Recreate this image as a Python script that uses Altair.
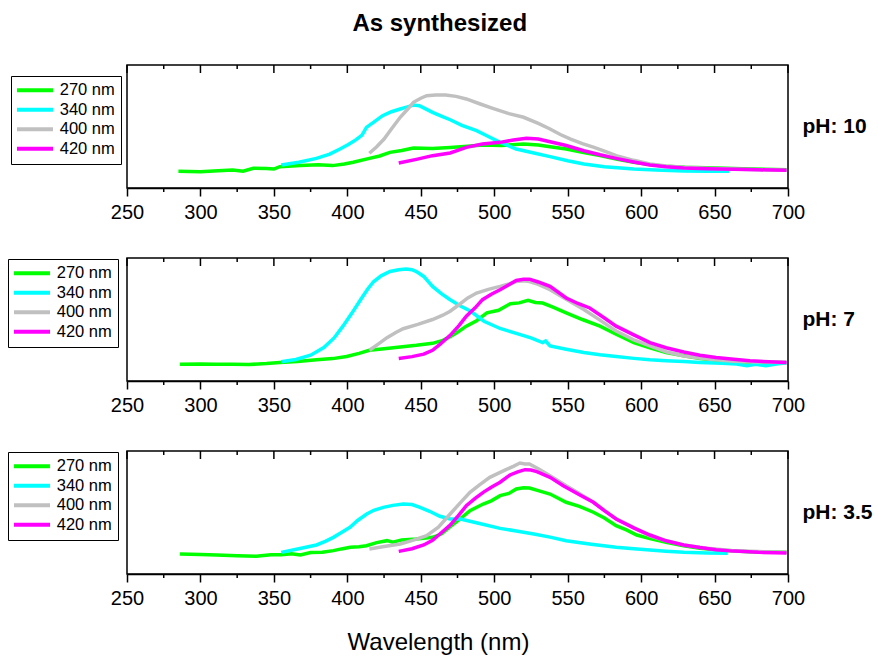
import altair as alt
import pandas as pd

FONT = "Liberation Sans"
SERIES = ["270 nm", "340 nm", "400 nm", "420 nm"]
COLORS = ["#00ff00", "#00ffff", "#c0c0c0", "#ff00ff"]
PANELS = ["pH: 10", "pH: 7", "pH: 3.5"]
MAJOR_TICKS = [250, 300, 350, 400, 450, 500, 550, 600, 650, 700]
MINOR_TICKS = [275, 325, 375, 425, 475, 525, 575, 625, 675]

# ---------------- pH 10 ----------------
PH10_270_WL = [285, 300, 312, 322, 329, 336, 345, 350, 354, 368, 380, 390, 398, 404, 415, 422, 429, 437, 445, 458,
               470, 482, 492, 505, 520, 530, 538, 549, 560, 572, 583, 595, 606, 617, 630, 651, 675, 699]
PH10_270_I = [13.6, 13.3, 14.0, 14.6, 13.6, 16.0, 15.8, 15.4, 17.3, 18.2, 18.8, 18.2, 19.5, 20.9, 24.1, 26.0, 29.0,
              30.5, 32.5, 32.2, 33.0, 34.0, 35.0, 34.5, 35.8, 35.0, 33.6, 31.7, 29.0, 26.3, 23.5, 20.9, 19.0, 17.6,
              16.8, 16.3, 15.5, 14.9]
PH10_340_WL = [355, 367, 379, 388, 395, 401, 406, 410, 413, 418, 424, 430, 436, 441, 445, 449, 453, 458, 464, 470,
               478, 488, 495, 504, 515, 527, 538, 550, 561, 575, 595, 610, 629, 645, 660]
PH10_340_I = [18.7, 21.0, 24.1, 27.5, 31.7, 35.5, 39.3, 43.0, 49.3, 53.5, 58.8, 62.0, 64.2, 66.0, 67.5, 66.9, 64.5,
              61.5, 58.5, 55.5, 51.0, 46.6, 42.5, 37.1, 31.7, 28.5, 25.5, 22.2, 19.5, 17.3, 15.4, 14.6, 13.8, 13.6,
              13.6]
PH10_400_WL = [415, 420, 425, 430, 436, 441, 445, 450, 454, 460, 467, 474, 481, 490, 499, 510, 520, 530, 538, 545,
               552, 560, 568, 576, 583, 595, 606, 617, 629, 645, 663, 680, 699]
PH10_400_I = [28.2, 33.5, 39.8, 48.0, 57.5, 64.0, 69.7, 73.0, 75.0, 75.6, 75.6, 74.5, 72.4, 68.5, 64.8, 60.5, 57.5,
              52.5, 48.0, 43.5, 39.8, 36.0, 33.0, 29.5, 26.3, 22.5, 19.5, 17.8, 16.8, 16.0, 15.4, 14.8, 14.4]
PH10_420_WL = [435, 447, 458, 470, 481, 492, 504, 513, 522, 530, 538, 549, 561, 572, 583, 595, 606, 617, 629, 645,
               663, 680, 699]
PH10_420_I = [20.3, 23.3, 26.3, 28.5, 33.0, 35.8, 37.1, 39.0, 40.4, 39.8, 37.6, 34.5, 30.3, 27.0, 24.1, 21.2, 18.7,
              17.3, 16.3, 15.6, 15.2, 14.8, 14.4]

# ---------------- pH 7 ----------------
PH7_270_WL = [286, 300, 310, 322, 333, 345, 354, 366, 379, 390, 399.5, 408, 415, 425, 436, 447, 458, 465, 470, 476,
              481, 488, 495, 503, 511, 517, 523, 528, 533, 540, 549, 560, 572, 583, 595, 606, 617, 629, 640, 651,
              663, 680, 699]
PH7_270_I = [13.7, 13.8, 13.6, 13.7, 13.4, 14.2, 15.1, 15.8, 17.2, 18.2, 19.9, 22.5, 25.0, 26.3, 27.7, 29.0, 30.6,
             33.0, 36.0, 40.5, 44.6, 49.0, 55.4, 57.5, 62.9, 63.5, 65.6, 63.8, 63.4, 60.0, 55.4, 50.0, 44.6, 38.0,
             31.2, 27.0, 23.1, 20.5, 18.3, 16.9, 15.6, 15.2, 15.1]
PH7_340_WL = [355, 365, 375, 384, 391, 397, 403, 409, 414, 418, 423, 429, 435, 440, 444, 447, 452, 458, 464, 470,
              477, 484, 493, 504, 515, 525, 533, 535, 538, 549, 561, 572, 583, 595, 606, 617, 629, 640, 655, 665,
              672, 678, 685, 692, 699]
PH7_340_I = [15.6, 17.5, 21.0, 27.2, 35.0, 44.6, 55.0, 66.1, 75.0, 80.9, 85.5, 89.0, 90.5, 91.1, 90.5, 89.0, 85.0,
             76.9, 71.0, 66.1, 61.0, 56.7, 48.6, 42.7, 38.7, 35.0, 31.2, 32.5, 28.5, 25.8, 23.1, 21.3, 19.9, 18.4,
             17.2, 16.4, 15.8, 15.1, 14.5, 13.8, 12.4, 13.6, 12.4, 13.8, 14.8]
PH7_400_WL = [415, 421, 427, 433, 438, 448, 458, 465, 470, 476, 482, 488, 496, 504, 510, 515, 520, 524, 530, 538,
              549, 561, 572, 583, 595, 606, 617, 629, 645, 663, 680, 699]
PH7_400_I = [25.0, 30.0, 35.2, 39.5, 42.5, 46.0, 50.0, 53.5, 56.7, 62.0, 67.5, 71.5, 74.5, 76.9, 79.0, 80.9, 81.5,
             80.9, 78.5, 74.2, 66.5, 58.1, 49.5, 40.6, 33.5, 28.5, 23.8, 20.4, 17.8, 16.1, 15.5, 15.1]
PH7_420_WL = [435, 444, 452, 458, 463, 470, 476, 481, 487, 492, 498, 504, 510, 515, 520, 524, 530, 538, 549, 557,
              565, 574, 583, 595, 606, 617, 629, 640, 651, 663, 674, 687, 699]
PH7_420_I = [18.3, 19.8, 21.8, 25.0, 29.8, 37.1, 45.0, 52.7, 59.5, 66.1, 70.5, 74.2, 78.2, 81.7, 82.8, 82.8, 80.5,
             76.9, 67.5, 63.0, 59.4, 52.0, 44.6, 37.5, 31.2, 27.0, 23.6, 21.0, 19.1, 17.6, 16.4, 15.6, 15.1]

# ---------------- pH 3.5 ----------------
PH35_270_WL = [286, 300, 311, 325, 338, 348, 355, 362, 368, 375, 383, 390.5, 396, 402, 408, 413, 420, 427, 431, 437,
               447, 458, 464, 470, 477, 483.5, 492.5, 498, 504, 510, 515, 520, 524, 530, 538, 549, 558, 567.5, 575,
               583, 590, 597, 606, 617, 629, 640, 655, 674, 699]
PH35_270_I = [16.3, 15.8, 15.4, 14.9, 14.4, 15.6, 15.7, 16.5, 15.4, 17.4, 17.6, 19.0, 20.4, 21.7, 22.2, 23.0, 25.5,
              27.1, 25.8, 27.7, 28.5, 29.8, 32.5, 38.4, 45.0, 51.5, 56.9, 59.5, 63.7, 65.5, 69.1, 70.2, 69.9, 67.8,
              65.0, 58.3, 55.0, 50.2, 45.5, 39.3, 35.8, 31.7, 28.8, 25.8, 23.0, 20.9, 19.3, 18.1, 17.6]
PH35_340_WL = [355, 367, 379, 385, 390.5, 396, 401.8, 407, 413.2, 418, 424.5, 431, 438, 444, 449.5, 456, 463, 470,
               477, 490, 504, 515, 527, 538, 549, 566, 583, 595, 606, 617, 629, 645, 659]
PH35_340_I = [17.6, 20.5, 23.6, 26.5, 29.8, 33.8, 38.0, 43.5, 48.8, 51.8, 54.2, 55.8, 56.9, 56.5, 54.2, 51.0, 46.9,
              44.7, 44.7, 41.0, 37.1, 35.0, 32.5, 30.0, 27.1, 24.2, 21.7, 20.5, 19.5, 18.5, 17.6, 17.1, 16.8]
PH35_400_WL = [415, 425, 436, 445, 454, 462, 470, 477, 483.5, 490, 497, 503, 508, 513, 517.5, 521, 524, 530, 538,
               549, 558, 567.5, 575, 583, 595, 606, 617, 629, 645, 663, 680, 699]
PH35_400_I = [20.3, 22.3, 24.4, 27.5, 31.1, 38.0, 48.8, 58.0, 66.4, 72.5, 78.6, 82.0, 84.8, 87.5, 90.2, 89.4, 89.4,
              85.5, 79.9, 71.8, 65.5, 58.3, 51.5, 44.7, 37.5, 31.1, 27.0, 23.6, 21.0, 19.0, 18.2, 17.6]
PH35_420_WL = [435, 444, 452, 458, 463, 470, 476, 481, 487, 492.5, 498, 504, 510.7, 516, 521, 525, 529, 538, 547,
               558, 567.5, 575, 583, 595, 606, 617, 629, 640, 651, 663, 680, 699]
PH35_420_I = [18.4, 20.5, 23.6, 27.5, 32.5, 39.8, 48.0, 55.5, 61.5, 66.4, 70.5, 74.6, 80.5, 83.0, 84.8, 84.5, 83.2,
              78.6, 71.8, 64.5, 58.3, 51.5, 44.7, 37.5, 31.7, 27.0, 23.6, 21.5, 19.8, 18.6, 17.6, 17.1]

PANEL_DATA = [
    [(PH10_270_WL, PH10_270_I), (PH10_340_WL, PH10_340_I), (PH10_400_WL, PH10_400_I), (PH10_420_WL, PH10_420_I)],
    [(PH7_270_WL, PH7_270_I), (PH7_340_WL, PH7_340_I), (PH7_400_WL, PH7_400_I), (PH7_420_WL, PH7_420_I)],
    [(PH35_270_WL, PH35_270_I), (PH35_340_WL, PH35_340_I), (PH35_400_WL, PH35_400_I), (PH35_420_WL, PH35_420_I)],
]

W = 661
H = 123
LEGEND_X = [-116, -119, -119]
LEGEND_Y = [11, 1, 1]

major_df = pd.DataFrame({"wl": MAJOR_TICKS})
minor_df = pd.DataFrame({"wl": MINOR_TICKS})
xscale = alt.Scale(domain=[250, 700], nice=False, zero=False)


def make_panel(i):
    rows = []
    for name, (wl, inten) in zip(SERIES, PANEL_DATA[i]):
        for a, b in zip(wl, inten):
            rows.append({"series": name, "wl": a, "I": b})
    df = pd.DataFrame(rows)
    last = i == len(PANELS) - 1
    xaxis_kwargs = dict(values=MAJOR_TICKS, tickSize=8, labelPadding=6, grid=False, format="d",
                        labelFlush=False, labelFontSize=20, labelFont=FONT, labelColor="black",
                        labelOverlap=False)
    if last:
        xaxis = alt.Axis(title="Wavelength (nm)", titleFontSize=24, titleFontWeight="normal",
                         titleFont=FONT, titleColor="black",
                         titleX=311, titleY=75, titleAlign="center", titleBaseline="alphabetic",
                         **xaxis_kwargs)
    else:
        xaxis = alt.Axis(title=None, **xaxis_kwargs)

    lines = alt.Chart(df).mark_line(strokeWidth=3.5).encode(
        x=alt.X("wl:Q", scale=xscale, axis=xaxis),
        y=alt.Y("I:Q", scale=alt.Scale(domain=[0, 100], nice=False),
                axis=alt.Axis(orient="right", title=PANELS[i], labels=False, ticks=False, domain=False,
                              grid=False, titleAngle=0, titleAlign="left", titleBaseline="middle",
                              titleX=14, titleY=H / 2, titleFontSize=21, titleFontWeight="bold",
                              titleFont=FONT, titleColor="black")),
        color=alt.Color("series:N", scale=alt.Scale(domain=SERIES, range=COLORS),
                        legend=alt.Legend(title=None, orient="none", legendX=LEGEND_X[i], legendY=LEGEND_Y[i],
                                          strokeColor="black", fillColor="white", padding=6,
                                          symbolType="M-3.6,0H3.6", symbolSize=100, symbolStrokeWidth=4,
                                          symbolOffset=9.75, labelOffset=16.5, labelFontSize=16.5,
                                          labelFont=FONT, labelColor="black", rowPadding=2.5,
                                          cornerRadius=0)),
    )
    top_major = alt.Chart(major_df).mark_rule(color="black", strokeWidth=1.5).encode(
        x=alt.X("wl:Q", scale=xscale, axis=xaxis), y=alt.value(0), y2=alt.value(8))
    top_minor = alt.Chart(minor_df).mark_rule(color="black", strokeWidth=1.5).encode(
        x=alt.X("wl:Q", scale=xscale, axis=xaxis), y=alt.value(0), y2=alt.value(4))
    bottom_minor = alt.Chart(minor_df).mark_rule(color="black", strokeWidth=1.5).encode(
        x=alt.X("wl:Q", scale=xscale, axis=xaxis), y=alt.value(H), y2=alt.value(H + 4))
    return alt.layer(lines, top_major, top_minor, bottom_minor).properties(width=W, height=H)


chart = alt.vconcat(
    *[make_panel(i) for i in range(3)], spacing=70, bounds="flush"
).resolve_scale(color="independent").properties(
    title=alt.TitleParams("As synthesized", fontSize=24, fontWeight="bold", font=FONT, anchor="middle",
                          offset=28, color="black"),
    padding={"left": 6, "top": 11, "right": 0, "bottom": 0},
    background="white",
).configure(font=FONT).configure_view(stroke="black", strokeWidth=1.5).configure_axis(
    labelFont=FONT, labelFontSize=20, labelColor="black", titleFont=FONT, titleColor="black",
    tickColor="black", domainColor="black", tickWidth=1.5, domainWidth=1.5,
)

chart.save("out.html", embed_options={"renderer": "svg", "actions": False})
